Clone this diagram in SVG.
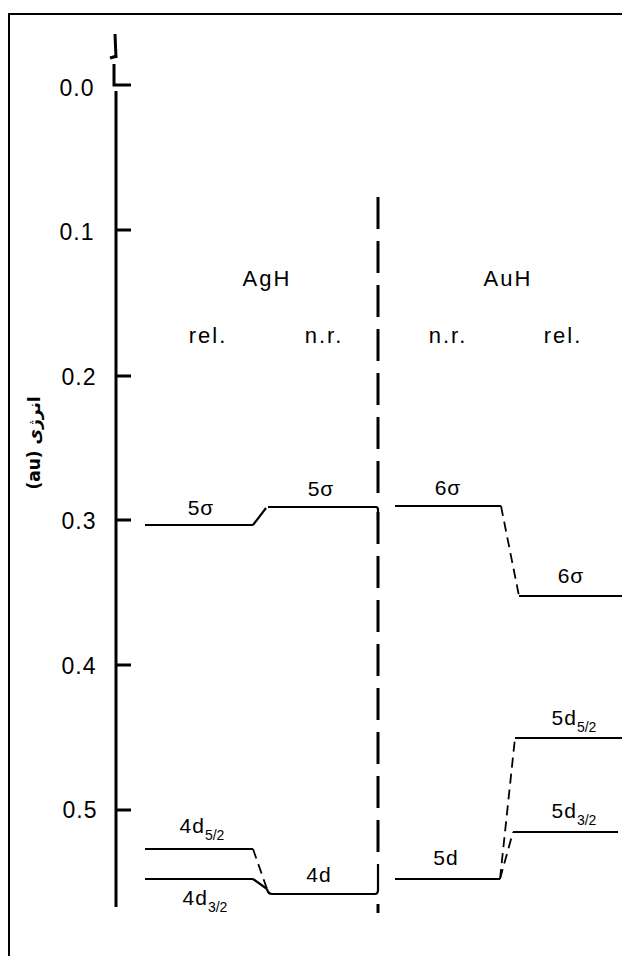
<svg xmlns="http://www.w3.org/2000/svg" width="622" height="956" viewBox="0 0 622 956">
<style>
text{font-family:"Liberation Sans",Arial,sans-serif;fill:#000}
.tick{font-size:23px;letter-spacing:1px;text-anchor:middle}
.head{font-size:22px;letter-spacing:2px;text-anchor:middle}
.lab{font-size:21px;letter-spacing:1px;text-anchor:middle}
.sub{font-size:14px;letter-spacing:0}
.ax{stroke:#000;stroke-width:3;fill:none}
.lvl{stroke:#000;stroke-width:2.2;fill:none}
.dash{stroke:#000;stroke-width:1.8;fill:none;stroke-dasharray:10 6}
.div{stroke:#000;stroke-width:3;fill:none;stroke-dasharray:32 12}
</style>
<rect width="622" height="956" fill="#fff"/>
<path d="M9,956 V14 H622" stroke="#000" stroke-width="2" fill="none"/>

<g id="axis">
  <path class="ax" d="M115,34 L116,58"/>
  <path class="ax" d="M110,58 L117,56" stroke-width="2"/>
  <path class="ax" d="M114,64 V85 H131"/>
  <path class="ax" d="M116,91 V907"/>
  <path class="ax" d="M116,230 H131 M116,376 H131 M116,520 H131 M116,665 H131 M116,810 H131"/>
  <text class="tick" x="77" y="96">0.0</text>
  <text class="tick" x="77" y="240">0.1</text>
  <text class="tick" x="79" y="385">0.2</text>
  <text class="tick" x="79" y="529">0.3</text>
  <text class="tick" x="79" y="674">0.4</text>
  <text class="tick" x="80" y="818">0.5</text>
  <text transform="translate(40,443) rotate(-90)" direction="rtl" style="font-family:'DejaVu Sans','Noto Sans',sans-serif;font-size:17px;text-anchor:middle;font-weight:bold">انرژی (au)</text>
</g>

<g id="divider">
  <path class="div" d="M378,197 V505"/>
  <path class="div" d="M378,512 V860"/>
  <path class="ax" d="M378,904 V913"/>
</g>

<g id="headers">
  <text class="head" x="267" y="286">AgH</text>
  <text class="head" x="208" y="343">rel.</text>
  <text class="head" x="324" y="343">n.r.</text>
  <text class="head" x="508" y="286">AuH</text>
  <text class="head" x="448" y="343">n.r.</text>
  <text class="head" x="563" y="343">rel.</text>
</g>

<g id="AgH-rel-5sigma">
  <path class="lvl" d="M145,525 H253"/>
  <text class="lab" x="201" y="515">5σ</text>
</g>
<g id="AgH-nr-5sigma">
  <path class="lvl" d="M268,507 H376 Q378,507 378,510 V520"/>
  <text class="lab" x="321" y="496">5σ</text>
</g>
<g id="AgH-rel-4d52">
  <path class="lvl" d="M145,849 H253"/>
  <text class="lab" x="202" y="833">4d<tspan class="sub" dy="7">5/2</tspan></text>
</g>
<g id="AgH-rel-4d32">
  <path class="lvl" d="M145,879 H253"/>
  <text class="lab" x="205" y="905">4d<tspan class="sub" dy="7">3/2</tspan></text>
</g>
<g id="AgH-nr-4d">
  <path class="lvl" d="M267,889 Q268,894 272,894 H375 Q378,894 378,890 V864"/>
  <text class="lab" x="319" y="882">4d</text>
</g>

<g id="AuH-nr-6sigma">
  <path class="lvl" d="M395,506 H501"/>
  <text class="lab" x="448" y="495">6σ</text>
</g>
<g id="AuH-rel-6sigma">
  <path class="lvl" d="M519,596 H622"/>
  <text class="lab" x="571" y="583">6σ</text>
</g>
<g id="AuH-nr-5d">
  <path class="lvl" d="M395,879 H500"/>
  <text class="lab" x="446" y="865">5d</text>
</g>
<g id="AuH-rel-5d52">
  <path class="lvl" d="M515,738 H622"/>
  <text class="lab" x="574" y="725">5d<tspan class="sub" dy="7">5/2</tspan></text>
</g>
<g id="AuH-rel-5d32">
  <path class="lvl" d="M513,832 H618"/>
  <text class="lab" x="574" y="818">5d<tspan class="sub" dy="7">3/2</tspan></text>
</g>

<g id="connectors">
  <path class="lvl" d="M253,525 L266,508"/>
  <path class="dash" d="M253,849 L267,889" stroke-dasharray="12 5"/>
  <path class="lvl" d="M253,879 L267,889"/>
  <path class="dash" d="M501,506 L519,596"/>
  <path class="dash" d="M500,879 L515,738"/>
  <path class="dash" d="M500,879 L513,832" stroke-dasharray="8 4"/>
</g>
</svg>
